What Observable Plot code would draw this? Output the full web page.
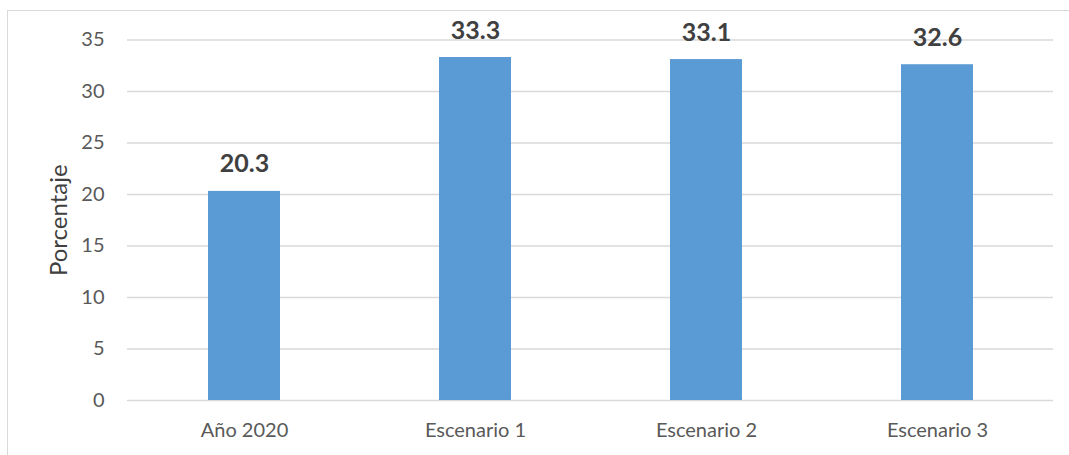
<!DOCTYPE html>
<html>
<head>
<meta charset="utf-8">
<script src="https://cdn.jsdelivr.net/npm/d3@7"></script>
<script src="https://cdn.jsdelivr.net/npm/@observablehq/plot@0.6"></script>
<style>
  html, body { margin: 0; padding: 0; background: #fff; }
  #wrap { position: relative; width: 1069px; height: 455px; overflow: hidden; }
  #frame { position: absolute; left: 7px; top: 10px; width: 1070px; height: 460px; border: 1px solid #d9d9d9; box-sizing: border-box; }
  #chart { position: absolute; left: 0; top: 0; }
</style>
</head>
<body>
<div id="wrap"><div id="frame"></div><div id="chart"></div></div>
<script>
const categories = ["Año 2020", "Escenario 1", "Escenario 2", "Escenario 3"];
const values = [20.3, 33.3, 33.1, 32.6];
const yTicks = [0, 5, 10, 15, 20, 25, 30, 35];
const yLabel = "Porcentaje";

const data = categories.map((c, i) => ({category: c, value: values[i]}));
const font = "Lato, 'Open Sans', sans-serif";

const chart = Plot.plot({
  width: 1069,
  height: 455,
  marginLeft: 127,
  marginRight: 16,
  marginTop: 39.5,
  marginBottom: 55,
  style: {fontFamily: font, background: "transparent", overflow: "visible"},
  x: {domain: categories, paddingInner: 0.689, paddingOuter: 0.3445, label: null},
  y: {domain: [0, 35], ticks: yTicks, label: yLabel},
  marks: [
    Plot.gridY(yTicks, {stroke: "#d9d9d9", strokeOpacity: 1, strokeWidth: 1.3}),
    Plot.axisY(yTicks, {tickSize: 0, tickPadding: 23, fontSize: 20, fill: "#595959",
      label: yLabel, labelAnchor: "center", labelArrow: "none", labelOffset: 78}),
    Plot.axisX({tickSize: 0, tickPadding: 22, fontSize: 20, fill: "#595959", label: null}),
    Plot.barY(data, {x: "category", y: "value", fill: "#5b9bd5"}),
    Plot.text(data, {x: "category", y: "value", text: d => d.value.toFixed(1), dy: -27,
      fontSize: 25, fontWeight: "bold", fill: "#404040"})
  ]
});
chart.querySelectorAll("text").forEach(t => {
  t.style.fontFamily = font;
  if (t.textContent === yLabel) {
    t.setAttribute("font-size", 24);
    t.style.fontSize = "24px";
    t.setAttribute("fill", "#404040");
  }
});
document.getElementById("chart").appendChild(chart);
</script>
</body>
</html>
